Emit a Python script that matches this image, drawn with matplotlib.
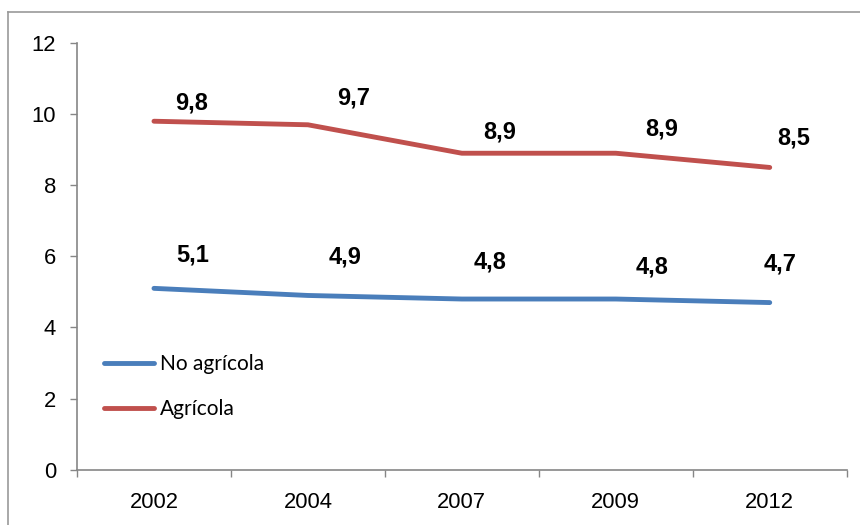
import matplotlib
matplotlib.use("Agg")
import matplotlib.pyplot as plt
from matplotlib.lines import Line2D

years = ["2002", "2004", "2007", "2009", "2012"]
no_agricola = [5.1, 4.9, 4.8, 4.8, 4.7]
agricola = [9.8, 9.7, 8.9, 8.9, 8.5]
series_names = ["No agrícola", "Agrícola"]

# label offsets (pixels, right / up) for data labels
off_no = [(38.7, 33.3), (37.1, 38.8), (28.2, 37.3), (36.0, 32.3), (10.4, 38.3)]
off_ag = [(37.7, 18.5), (45.4, 26.5), (38.2, 21.5), (46.0, 24.2), (24.4, 29.4)]

BLUE = "#4A7EBB"
RED = "#C0504D"
GRAY = "#868686"
DPI = 100

fig = plt.figure(figsize=(8.6, 5.25), dpi=DPI)
ax = fig.add_axes([77 / 860, 1 - 469.7 / 525, (846.7 - 77) / 860, (469.7 - 43) / 525])

x = list(range(len(years)))
l1, = ax.plot(x, no_agricola, color=BLUE, lw=3.5, solid_capstyle="round", label=series_names[0])
l2, = ax.plot(x, agricola, color=RED, lw=3.5, solid_capstyle="round", label=series_names[1])

px2pt = 72 / DPI
for xi, v, (dx, dy) in zip(x, no_agricola, off_no):
    ax.annotate(f"{v:.1f}".replace(".", ","), (xi, v), xytext=(dx * px2pt, dy * px2pt),
                textcoords="offset points", ha="center", va="center",
                fontsize=17, fontweight="bold", family="Liberation Sans")
for xi, v, (dx, dy) in zip(x, agricola, off_ag):
    ax.annotate(f"{v:.1f}".replace(".", ","), (xi, v), xytext=(dx * px2pt, dy * px2pt),
                textcoords="offset points", ha="center", va="center",
                fontsize=17, fontweight="bold", family="Liberation Sans")

ax.set_xlim(-0.5, len(years) - 0.5)
ax.set_ylim(0, 12)
ax.set_yticks(range(0, 13, 2))
ax.set_yticklabels([str(t) for t in range(0, 13, 2)], family="Liberation Sans", fontsize=15.8)
ax.set_xticks(x)
ax.set_xticklabels(years, family="Liberation Sans", fontsize=15.8)
ax.set_xticks([i - 0.5 for i in range(len(years) + 1)], minor=True)
ax.tick_params(axis="x", which="major", length=0, pad=16)
ax.tick_params(axis="x", which="minor", length=5, width=1, color=GRAY, direction="out")
ax.tick_params(axis="y", length=5, width=1, color=GRAY, direction="out", pad=10)
for s in ["top", "right"]:
    ax.spines[s].set_visible(False)
for s in ["left", "bottom"]:
    ax.spines[s].set_color(GRAY)
    ax.spines[s].set_linewidth(1.2)

leg = ax.legend(handles=[l1, l2], loc="upper left", bbox_to_anchor=(104 / 860, 1 - 354 / 525),
                bbox_transform=fig.transFigure, frameon=False, borderpad=0, borderaxespad=0,
                handlelength=2.4, handletextpad=0.3, labelspacing=1.2,
                prop={"family": "Lato", "size": 15})

# outer frame
fig.add_artist(Line2D([8 / 860, 8 / 860], [1 - 12 / 525, 0], transform=fig.transFigure, color="#999999", lw=1.2))
fig.add_artist(Line2D([8 / 860, 1], [1 - 12 / 525, 1 - 12 / 525], transform=fig.transFigure, color="#999999", lw=1.2))

fig.savefig("out.png", dpi=DPI)
